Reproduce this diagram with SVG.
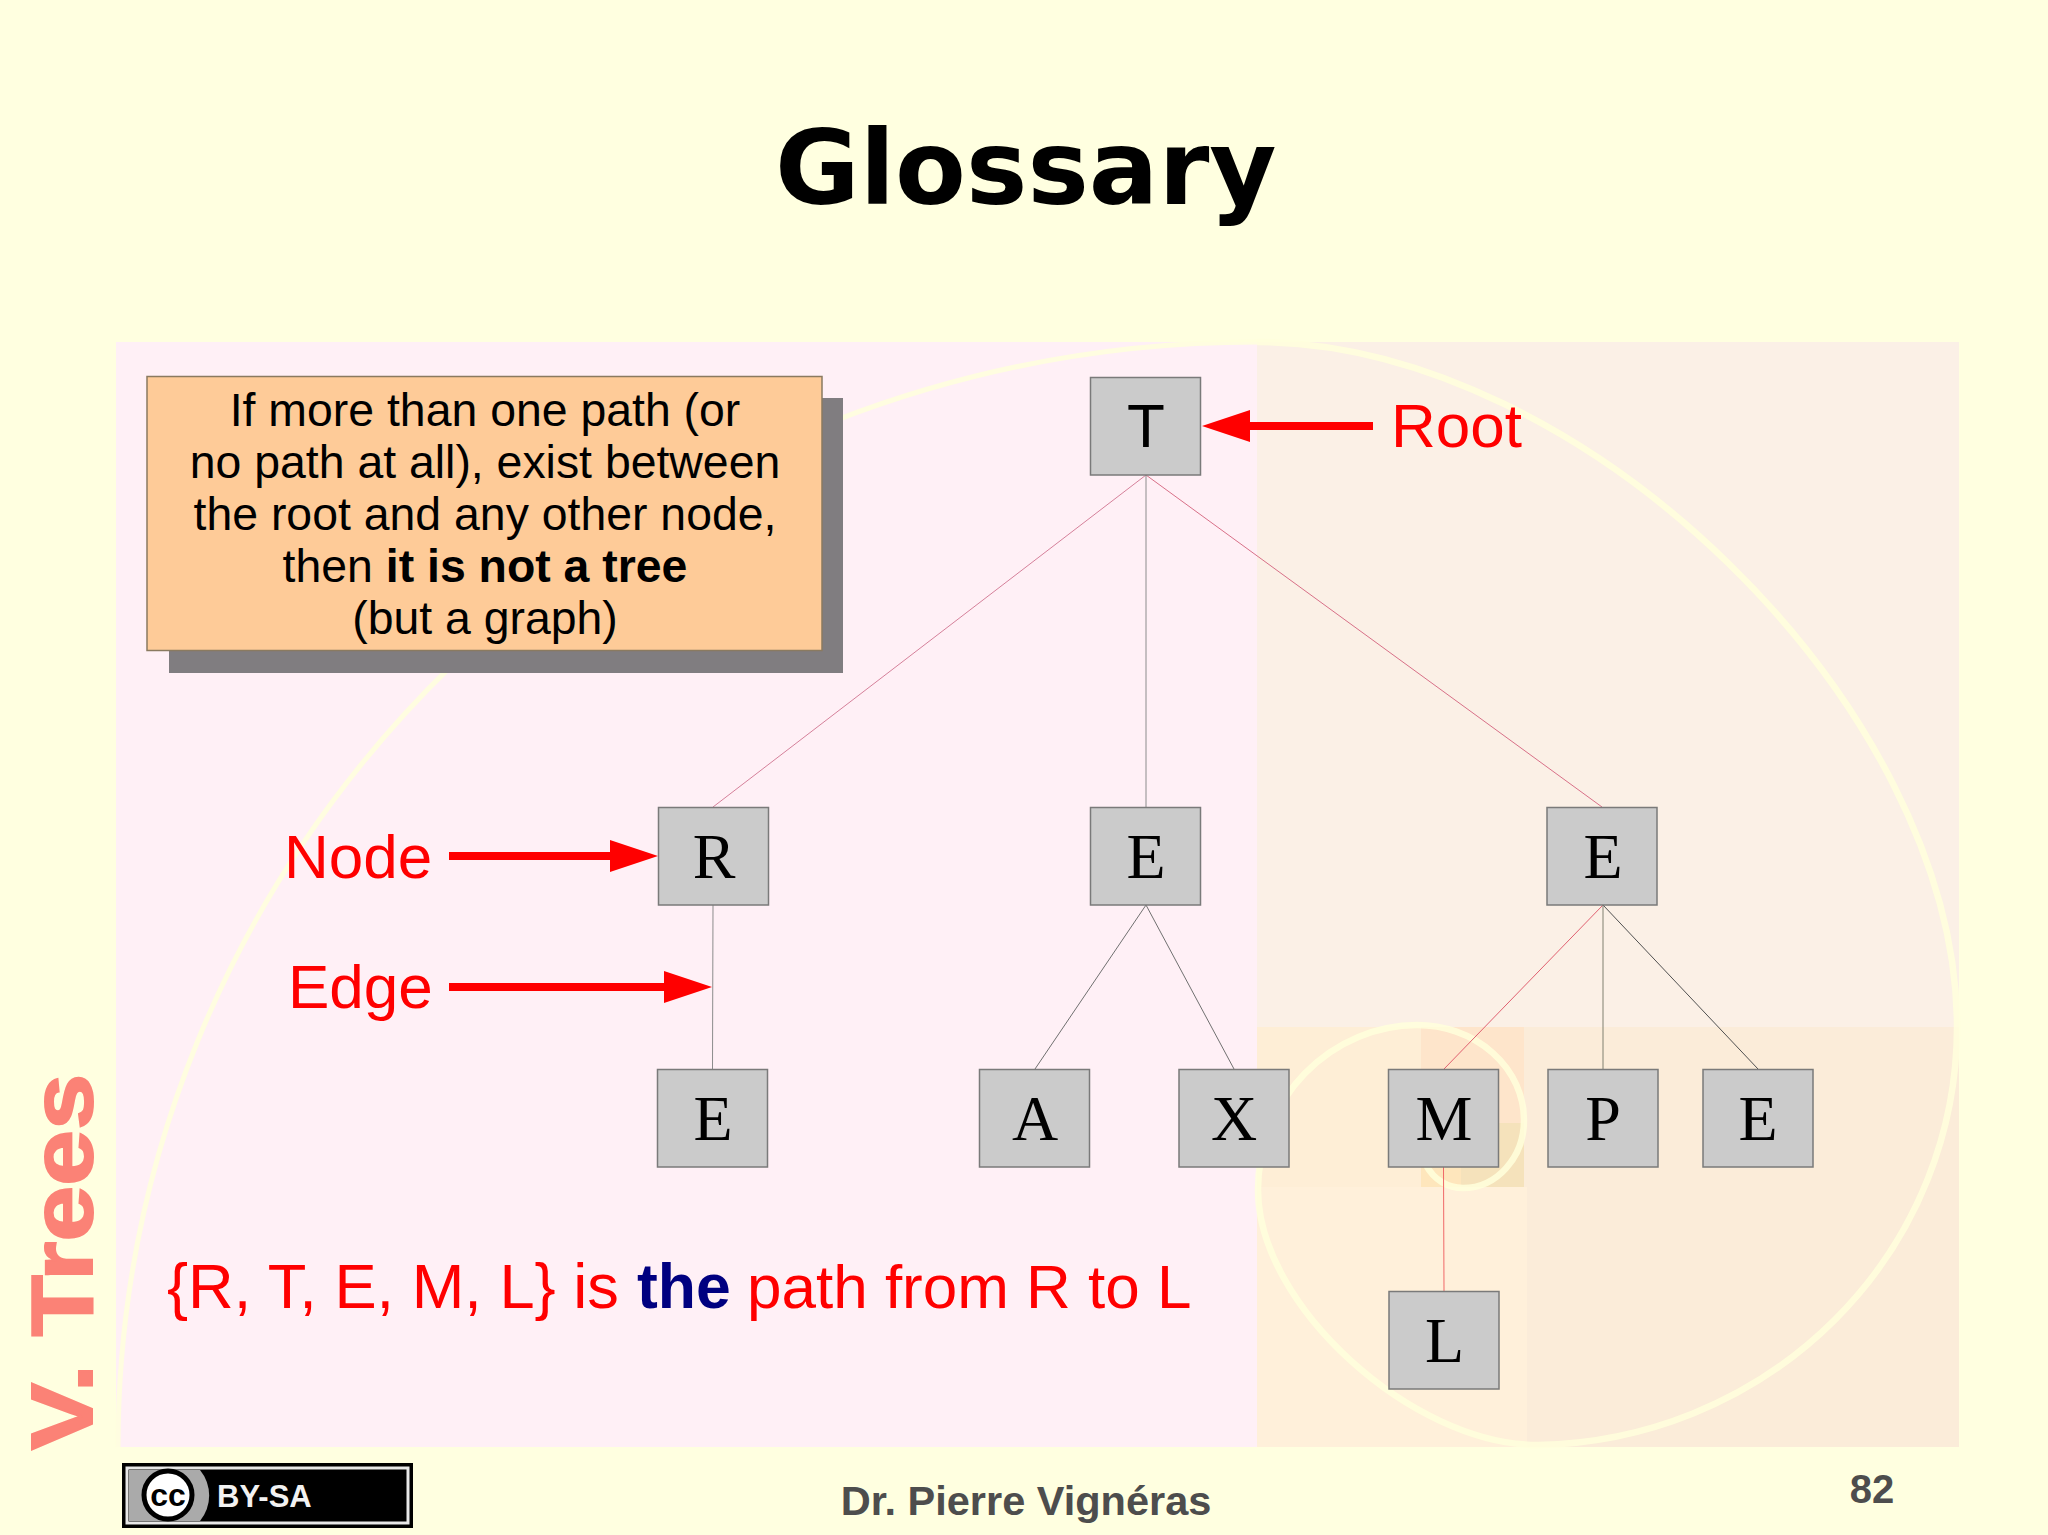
<svg xmlns="http://www.w3.org/2000/svg" width="2048" height="1535" viewBox="0 0 2048 1535">
<style>
.n{fill:#cbcbcb;stroke:#7a7a7a;stroke-width:1.5}
.l{font-family:"Liberation Serif",serif;font-size:64px;fill:#000;text-anchor:middle}
.e{fill:none;stroke-width:1}
.r{font-family:"Liberation Sans",Arial,sans-serif;font-size:62px;fill:#f00}
.b{font-family:"Liberation Sans",Arial,sans-serif;font-size:46.4px;fill:#000;text-anchor:middle}
.s{fill:none;stroke:#ffffdc;stroke-opacity:.85}
.ar{fill:none;stroke:#f00;stroke-width:8}
</style>
<defs><marker id="a" markerUnits="userSpaceOnUse" markerWidth="48" markerHeight="32" refX="2" refY="16" orient="auto"><path d="M0 0L48 16L0 32Z" fill="#f00"/></marker></defs>
<rect width="2048" height="1535" fill="#ffffe0"/>
<g id="background">
<rect x="116" y="342" width="1141" height="1105" fill="#fff0f6"/>
<rect x="1257" y="342" width="702" height="685" fill="#fbf0e6"/>
<rect x="1257" y="1027" width="702" height="420" fill="#fbecd9"/>
<rect x="1257" y="1187" width="270" height="260" fill="#fff0da"/>
<rect x="1257" y="1027" width="267" height="160" fill="#feeed6"/>
<rect x="1421" y="1027" width="103" height="160" fill="#fee5cb"/>
<rect x="1421" y="1123" width="40" height="64" fill="#fee6bc"/>
<rect x="1461" y="1123" width="63" height="64" fill="#f5e2bb"/>
<path class="s" stroke-width="5" d="M118 1447A1139 1105 0 0 1 1257 342"/>
<path class="s" stroke-width="6.500" d="M1257 342C1584 342 1957 707 1957 1027A427 418 0 0 1 1538 1445C1412 1445 1258 1305 1258 1190A160 165 0 0 1 1417 1025A107 95 0 0 1 1524 1120A61 68 0 0 1 1463 1188C1448 1188 1434 1180 1426 1165"/>
</g>
<g id="infobox">
<rect x="169" y="398" width="674" height="275" fill="#807d80"/>
<rect x="147" y="376.500" width="675" height="274" fill="#fecb98" stroke="#8a7a60" stroke-width="1.500"/>
<text class="b" x="485" y="426">If more than one path (or</text>
<text class="b" x="485" y="478">no path at all), exist between</text>
<text class="b" x="485" y="530">the root and any other node,</text>
<text class="b" x="485" y="582">then <tspan font-weight="bold">it is not a tree</tspan></text>
<text class="b" x="485" y="634">(but a graph)</text>
</g>
<g id="connectors">
<path class="e" stroke="#d5809a" d="M1146 475L713 807"/>
<path class="e" stroke="#8c8c8c" d="M1146 475V807"/>
<path class="e" stroke="#d87088" d="M1146 475L1602 807"/>
<path class="e" stroke="#8c8c8c" d="M713 905L712.500 1069"/>
<path class="e" stroke="#707070" d="M1146 905L1035 1069"/>
<path class="e" stroke="#707070" d="M1146 905L1234 1069"/>
<path class="e" stroke="#e06070" d="M1603 905L1444 1069"/>
<path class="e" stroke="#808070" d="M1603 905V1069"/>
<path class="e" stroke="#505050" d="M1603 905L1758 1069"/>
<path class="e" stroke="#f06868" d="M1443.500 1167L1444 1291"/>
<path class="ar" d="M1373 426H1248" marker-end="url(#a)"/>
<path class="ar" d="M449 856H612" marker-end="url(#a)"/>
<path class="ar" d="M449 987H666" marker-end="url(#a)"/>
</g>
<g id="node-T"><rect class="n" x="1090.500" y="377.500" width="110" height="97.500"/><text x="1146" y="447" font-family="Liberation Sans,sans-serif" font-size="62" text-anchor="middle">T</text></g>
<g id="node-R"><rect class="n" x="658.500" y="807.500" width="110" height="97.500"/><text class="l" x="714" y="878">R</text></g>
<g id="node-E1"><rect class="n" x="1090.500" y="807.500" width="110" height="97.500"/><text class="l" x="1146" y="878">E</text></g>
<g id="node-E2"><rect class="n" x="1547" y="807.500" width="110" height="97.500"/><text class="l" x="1603" y="878">E</text></g>
<g id="node-E3"><rect class="n" x="657.500" y="1069.500" width="110" height="97.500"/><text class="l" x="713" y="1140">E</text></g>
<g id="node-A"><rect class="n" x="979.500" y="1069.500" width="110" height="97.500"/><text class="l" x="1035" y="1140">A</text></g>
<g id="node-X"><rect class="n" x="1179" y="1069.500" width="110" height="97.500"/><text class="l" x="1234" y="1140">X</text></g>
<g id="node-M"><rect class="n" x="1388.500" y="1069.500" width="110" height="97.500"/><text class="l" x="1444" y="1140">M</text></g>
<g id="node-P"><rect class="n" x="1548" y="1069.500" width="110" height="97.500"/><text class="l" x="1603" y="1140">P</text></g>
<g id="node-E4"><rect class="n" x="1703" y="1069.500" width="110" height="97.500"/><text class="l" x="1758" y="1140">E</text></g>
<g id="node-L"><rect class="n" x="1389" y="1291.500" width="110" height="97.500"/><text class="l" x="1444.500" y="1362">L</text></g>
<g id="labels">
<text class="r" x="1391" y="447">Root</text>
<text class="r" x="284" y="878">Node</text>
<text class="r" x="288" y="1008">Edge</text>
<text class="r" x="167" y="1308" style="font-size:63.2px">{R, T, E, M, L} is <tspan x="637" font-weight="bold" fill="#000080" style="font-size:62.5px">the</tspan><tspan x="747" style="font-size:62px">path from R to L</tspan></text>
</g>
<text x="775" y="204" font-family="DejaVu Sans,sans-serif" font-weight="bold" font-size="103.200">Glossary</text>
<text transform="translate(92 1450) rotate(-90)" font-family="Liberation Sans,sans-serif" font-weight="bold" font-size="87" fill="#fb8276" stroke="#fb8276" stroke-width="2" textLength="376" lengthAdjust="spacingAndGlyphs">V. Trees</text>
<text x="1026" y="1515" font-family="Liberation Sans,sans-serif" font-weight="bold" font-size="41.500" fill="#4d4d4d" text-anchor="middle">Dr. Pierre Vignéras</text>
<text x="1872" y="1503" font-family="Liberation Sans,sans-serif" font-weight="bold" font-size="40" fill="#4d4d4d" text-anchor="middle">82</text>
<g id="badge">
<rect x="122" y="1463" width="291" height="65" fill="#000"/>
<rect x="127" y="1468" width="281" height="55" fill="#000" stroke="#e8e8e8" stroke-width="3"/>
<path d="M129 1470H200A40 40 0 0 1 200 1521H129Z" fill="#aaa"/>
<circle cx="168" cy="1495" r="24" fill="#fff" stroke="#000" stroke-width="5"/>
<text x="168" y="1506" font-family="Liberation Sans,sans-serif" font-weight="bold" font-size="32" text-anchor="middle">cc</text>
<text x="217" y="1507" font-family="Liberation Sans,sans-serif" font-weight="bold" font-size="31" fill="#f2f2f2">BY-SA</text>
</g>
</svg>
